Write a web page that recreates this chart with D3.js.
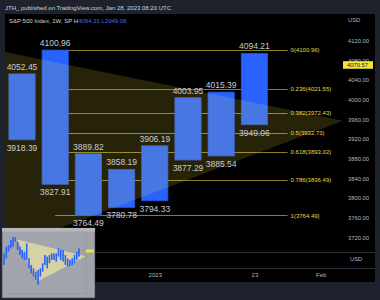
<!DOCTYPE html>
<html>
<head>
<meta charset="utf-8">
<script src="https://cdnjs.cloudflare.com/ajax/libs/d3/7.8.5/d3.min.js"></script>
<style>
  body { margin: 0; background: #1e222d; }
  svg { display: block; font-family: "Liberation Sans", Arial, sans-serif; }
</style>
</head>
<body>
<div id="chart"></div>
<script>
// S&P 500 weekly ranges, fib retracement and triangle

var weeks = ["Dec 5", "Dec 12", "Dec 19", "Dec 26", "Jan 2", "Jan 9", "Jan 16", "Jan 23"];
var highs = [4052.45, 4100.96, 3889.82, 3858.19, 3906.19, 4003.95, 4015.39, 4094.21];
var lows = [3918.39, 3827.91, 3764.49, 3780.78, 3794.33, 3877.29, 3885.54, 3949.06];

var fibRatios = ["0", "0.236", "0.382", "0.5", "0.618", "0.786", "1"];
var fibPrices = [4100.96, 4021.55, 3972.43, 3932.73, 3893.02, 3836.49, 3764.49];
var fibFrom = 1, fibTo = 8;

var triIdx = [-3, -0.5, 9.67];
var triPrice = [4131, 3696, 3957];

var priceTicks = [3720, 3760, 3800, 3840, 3880, 3920, 3960, 4000, 4040, 4080, 4120];
var timeTicks = [4, 7, 9];
var timeLabels = ["2023", "23", "Feb"];
var lastPrice = 4070.57;

// thumbnail of the whole idea, bottom left
var thumbHigh = [4025, 4135, 4162, 4245, 4300, 4289, 4217, 4135, 4080, 4052, 4190, 3942, 3832, 3777, 3722, 3750, 3777,
  3860, 3997, 3970, 3997, 4025, 4025, 4025, 4107, 4080, 4080, 3997, 3942, 3915, 3942, 3997, 4052, 4107];
var thumbLow = [3832, 3942, 4052, 4107, 4135, 4217, 4080, 3997, 3942, 3915, 3915, 3777, 3695, 3640, 3585, 3502, 3640,
  3722, 3832, 3777, 3860, 3915, 3915, 3887, 3970, 3915, 3887, 3832, 3805, 3816, 3832, 3860, 3915, 3970];
var thumbTriIdx = [5.4, 14.8, 35.9];
var thumbTriPrice = [4256, 3557, 3975];

var W = 380, H = 300;
var plot = {left: 5, right: 343, top: 14, bottom: 252};

var svg = d3.select("#chart").append("svg")
    .attr("width", W)
    .attr("height", H);

svg.append("rect").attr("width", W).attr("height", H).attr("fill", "#1e222d");

svg.append("text")
    .attr("x", 5).attr("y", 9.5)
    .attr("font-size", 6).attr("fill", "#d1d4dc")
    .text("JTH_ published on TradingView.com, Jan 28, 2023 08:20 UTC");

// chart panel
svg.append("rect")
    .attr("x", 5).attr("y", 14).attr("width", 370).attr("height", 268)
    .attr("fill", "#000000");

svg.append("line").attr("x1", 5).attr("x2", 375).attr("y1", 252.5).attr("y2", 252.5)
    .attr("stroke", "#2a2e39");
svg.append("line").attr("x1", 5).attr("x2", 375).attr("y1", 268.5).attr("y2", 268.5)
    .attr("stroke", "#2a2e39");

var x = d3.scaleLinear().domain([-0.512, 9.669]).range([plot.left, plot.right]);
var y = d3.scaleLinear().domain([3720, 4120]).range([237.3, 40.7]);
var half = 0.395;

svg.append("clipPath").attr("id", "plotclip")
  .append("rect")
    .attr("x", plot.left).attr("y", plot.top)
    .attr("width", plot.right - plot.left).attr("height", plot.bottom - plot.top);

var g = svg.append("g").attr("clip-path", "url(#plotclip)");

// fib levels
g.selectAll("line.fib")
    .data(fibPrices)
    .enter().append("line")
      .attr("class", "fib")
      .attr("x1", x(fibFrom)).attr("x2", x(fibTo))
      .attr("y1", function(d) { return Math.round(y(d)) + 0.5; })
      .attr("y2", function(d) { return Math.round(y(d)) + 0.5; })
      .attr("stroke", "#8a7d28")
      .attr("stroke-width", 1);

// weekly ranges
g.selectAll("rect.bar")
    .data(weeks)
    .enter().append("rect")
      .attr("class", "bar")
      .attr("x", function(d, i) { return x(i - half); })
      .attr("y", function(d, i) { return y(highs[i]); })
      .attr("width", x(half) - x(-half))
      .attr("height", function(d, i) { return y(lows[i]) - y(highs[i]); })
      .attr("fill", "#2962ff")
      .attr("stroke", "#2453d8")
      .attr("stroke-width", 0.8);

// triangle on top, translucent
g.append("path")
    .attr("d", d3.line()(triIdx.map(function(d, i) { return [x(d), y(triPrice[i])]; })) + "Z")
    .attr("fill", "rgba(255, 235, 59, 0.15)");

// fib labels
svg.selectAll("text.fib")
    .data(fibPrices)
    .enter().append("text")
      .attr("class", "fib")
      .attr("x", x(fibTo) + 3)
      .attr("y", function(d) { return y(d) + 2.2; })
      .attr("font-size", 6)
      .attr("fill", "#e8d64a")
      .text(function(d, i) { return fibRatios[i] + "(" + d.toFixed(2) + ")"; });

// high / low labels
g.selectAll("text.hi")
    .data(highs)
    .enter().append("text")
      .attr("x", function(d, i) { return x(i); })
      .attr("y", function(d) { return y(d) - 4; })
      .attr("text-anchor", "middle")
      .attr("font-size", 8.5)
      .attr("fill", "#c9cbd1")
      .text(function(d) { return d.toFixed(2); });

g.selectAll("text.lo")
    .data(lows)
    .enter().append("text")
      .attr("x", function(d, i) { return x(i); })
      .attr("y", function(d) { return y(d) + 11; })
      .attr("text-anchor", "middle")
      .attr("font-size", 8.5)
      .attr("fill", "#c9cbd1")
      .text(function(d) { return d.toFixed(2); });

// legend
var legend = svg.append("text").attr("x", 9).attr("y", 23).attr("font-size", 6).attr("fill", "#d1d4dc");
legend.append("tspan").text("S&P 500 Index, 1W, SP  H");
legend.append("tspan").attr("fill", "#3b6ef5").text(d3.max(highs.slice(-1)).toFixed(2));
legend.append("tspan").attr("fill", "#3b6ef5").text("  L" + d3.min(lows.slice(-1)).toFixed(2));

// price axis
var axisR = svg.append("g")
    .attr("transform", "translate(" + plot.right + ",0)")
    .call(d3.axisRight(y).tickValues(priceTicks).tickSize(0).tickPadding(5)
      .tickFormat(function(d) { return d.toFixed(2); }));
axisR.select(".domain").remove();
axisR.selectAll("text")
    .attr("font-size", 5.8)
    .attr("font-family", "Liberation Sans, Arial, sans-serif")
    .attr("fill", "#b2b5be");

svg.append("text").attr("x", 348).attr("y", 22).attr("font-size", 5.8).attr("fill", "#b2b5be").text("USD");
svg.append("text").attr("x", 350).attr("y", 261).attr("font-size", 5.8).attr("fill", "#b2b5be").text("USD");

svg.append("rect")
    .attr("x", 343).attr("y", y(lastPrice) - 3.8)
    .attr("width", 30).attr("height", 7.6)
    .attr("fill", "#f2e33a");
svg.append("text")
    .attr("x", 347).attr("y", y(lastPrice) + 2.1)
    .attr("font-size", 5.8).attr("fill", "#131722")
    .text(lastPrice.toFixed(2));

// time axis
var axisB = svg.append("g")
    .attr("transform", "translate(0,269)")
    .call(d3.axisBottom(x).tickValues(timeTicks).tickSize(0).tickPadding(4)
      .tickFormat(function(d, i) { return timeLabels[i]; }));
axisB.select(".domain").remove();
axisB.selectAll("text")
    .attr("font-size", 6)
    .attr("font-family", "Liberation Sans, Arial, sans-serif")
    .attr("fill", "#b2b5be");

// thumbnail
var tb = {left: 2, top: 228, width: 93, height: 70};
var tg = svg.append("g");
tg.append("rect")
    .attr("x", tb.left).attr("y", tb.top).attr("width", tb.width).attr("height", tb.height)
    .attr("fill", "#a1a4ac").attr("stroke", "#3a3e4a").attr("stroke-width", 0.6);
tg.append("rect")
    .attr("x", tb.left).attr("y", tb.top).attr("width", tb.width).attr("height", 3.5)
    .attr("fill", "#b4b7be");
tg.append("line")
    .attr("x1", tb.left).attr("x2", tb.left + tb.width).attr("y1", 294).attr("y2", 294)
    .attr("stroke", "#8e9199").attr("stroke-width", 0.5);
tg.append("line")
    .attr("x1", 86).attr("x2", 86).attr("y1", 232).attr("y2", 294)
    .attr("stroke", "#8e9199").attr("stroke-width", 0.5);

var tx = d3.scaleLinear().domain([0, thumbHigh.length - 1]).range([4, 79]);
var ty = d3.scaleLinear().domain([3500, 4300]).range([285, 236.7]);

tg.append("path")
    .attr("d", d3.line()(thumbTriIdx.map(function(d, i) { return [tx(d), ty(thumbTriPrice[i])]; })) + "Z")
    .attr("fill", "#d6d2a6");

tg.selectAll("rect.tbar")
    .data(thumbHigh)
    .enter().append("rect")
      .attr("x", function(d, i) { return tx(i) - 0.8; })
      .attr("y", function(d) { return ty(d); })
      .attr("width", 1.6)
      .attr("height", function(d, i) { return ty(thumbLow[i]) - ty(d); })
      .attr("fill", "#2962ff");

tg.append("rect")
    .attr("x", 86).attr("y", 249.5).attr("width", 8).attr("height", 3)
    .attr("fill", "#f2e33a");
</script>
</body>
</html>
